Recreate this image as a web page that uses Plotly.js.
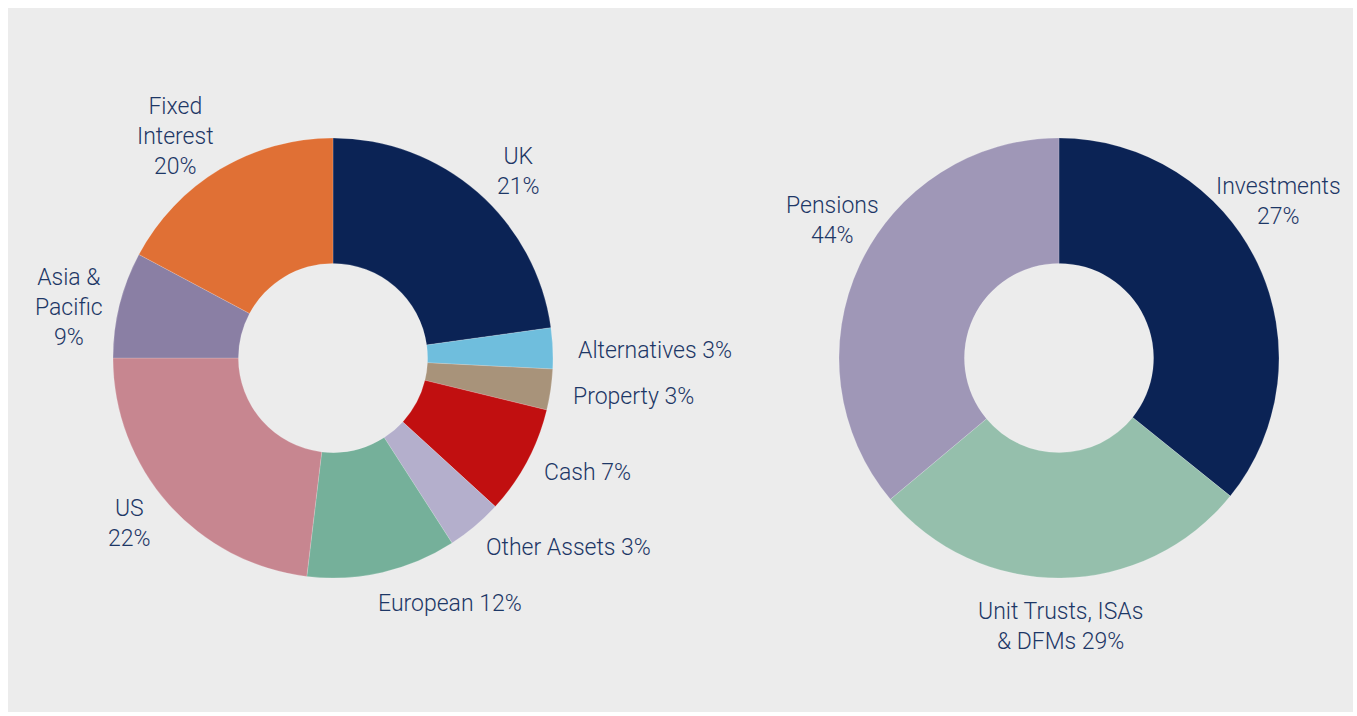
<!DOCTYPE html>
<html>
<head>
<meta charset="utf-8">
<script src="https://cdn.plot.ly/plotly-3.0.1.min.js"></script>
<style>
  html, body { margin: 0; padding: 0; background: #ffffff; }
  #fondo { position: absolute; left: 8px; top: 8px; width: 1345px; height: 704px; background: #ececec; }
  #grafica { position: absolute; left: 0; top: 0; width: 1357px; height: 716px; }
</style>
</head>
<body>
<div id="fondo"></div>
<div id="grafica"></div>
<script>
// Primer donut: distribucion de activos
var activos = ['UK', 'Alternatives', 'Property', 'Cash', 'Other Assets', 'European', 'US', 'Asia & Pacific', 'Fixed Interest'];
var activosValores = [22.8, 3.0, 3.0, 8.0, 4.1, 11.0, 23.1, 7.8, 17.2];
var activosTextos = ['UK<br>21%', 'Alternatives 3%', 'Property 3%', 'Cash 7%', 'Other Assets 3%', 'European 12%', 'US<br>22%', 'Asia &<br>Pacific<br>9%', 'Fixed<br>Interest<br>20%'];
var activosColores = ['#0b2355', '#6fbedd', '#a8937a', '#c10f10', '#b4afcc', '#75b09a', '#c78690', '#8a7fa4', '#e07035'];

// Segundo donut: tipo de producto
var productos = ['Investments', 'Unit Trusts, ISAs & DFMs', 'Pensions'];
var productosValores = [35.8, 28.1, 36.1];
var productosTextos = ['Investments<br>27%', 'Unit Trusts, ISAs<br>& DFMs 29%', 'Pensions<br>44%'];
var productosColores = ['#0b2355', '#95bfac', '#9f97b7'];

// posiciones de etiquetas (pixeles)
var posActivos = [[518, 171], [655, 350], [633, 396], [587, 472], [568, 547], [450, 603], [129, 523], [69, 307], [175, 136]];
var posProductos = [[1278, 201], [1060, 626], [832, 220]];

var W = 1357, H = 716;
var colorTexto = '#1d3766';

var trace1 = {
    type: 'pie',
    labels: activos,
    values: activosValores,
    hole: 0.43,
    sort: false,
    direction: 'clockwise',
    rotation: 0,
    textinfo: 'none',
    hoverinfo: 'label+percent',
    marker: { colors: activosColores, line: { color: 'rgba(255,255,255,0.35)', width: 0.5 } },
    domain: { x: [113 / W, 553 / W], y: [138 / H, 578 / H] },
    showlegend: false
};

var trace2 = {
    type: 'pie',
    labels: productos,
    values: productosValores,
    hole: 0.43,
    sort: false,
    direction: 'clockwise',
    rotation: 0,
    textinfo: 'none',
    hoverinfo: 'label+percent',
    marker: { colors: productosColores, line: { color: 'rgba(255,255,255,0.35)', width: 0.5 } },
    domain: { x: [839 / W, 1279 / W], y: [138 / H, 578 / H] },
    showlegend: false
};

var anotaciones = [];
function etiquetas(textos, pos) {
    for (var i = 0; i < textos.length; i++) {
        anotaciones.push({
            xref: 'paper', yref: 'paper',
            x: pos[i][0] / W,
            y: 1 - pos[i][1] / H,
            xanchor: 'center', yanchor: 'middle',
            align: 'center',
            showarrow: false,
            text: textos[i],
            font: { family: 'Roboto, sans-serif', size: 23, weight: 300, color: colorTexto }
        });
    }
}
etiquetas(activosTextos, posActivos);
etiquetas(productosTextos, posProductos);

var layout = {
    width: W,
    height: H,
    margin: { l: 0, r: 0, t: 0, b: 0 },
    paper_bgcolor: 'rgba(0,0,0,0)',
    plot_bgcolor: 'rgba(0,0,0,0)',
    annotations: anotaciones
};

Plotly.newPlot('grafica', [trace1, trace2], layout, { displayModeBar: false, staticPlot: true });
</script>
</body>
</html>
